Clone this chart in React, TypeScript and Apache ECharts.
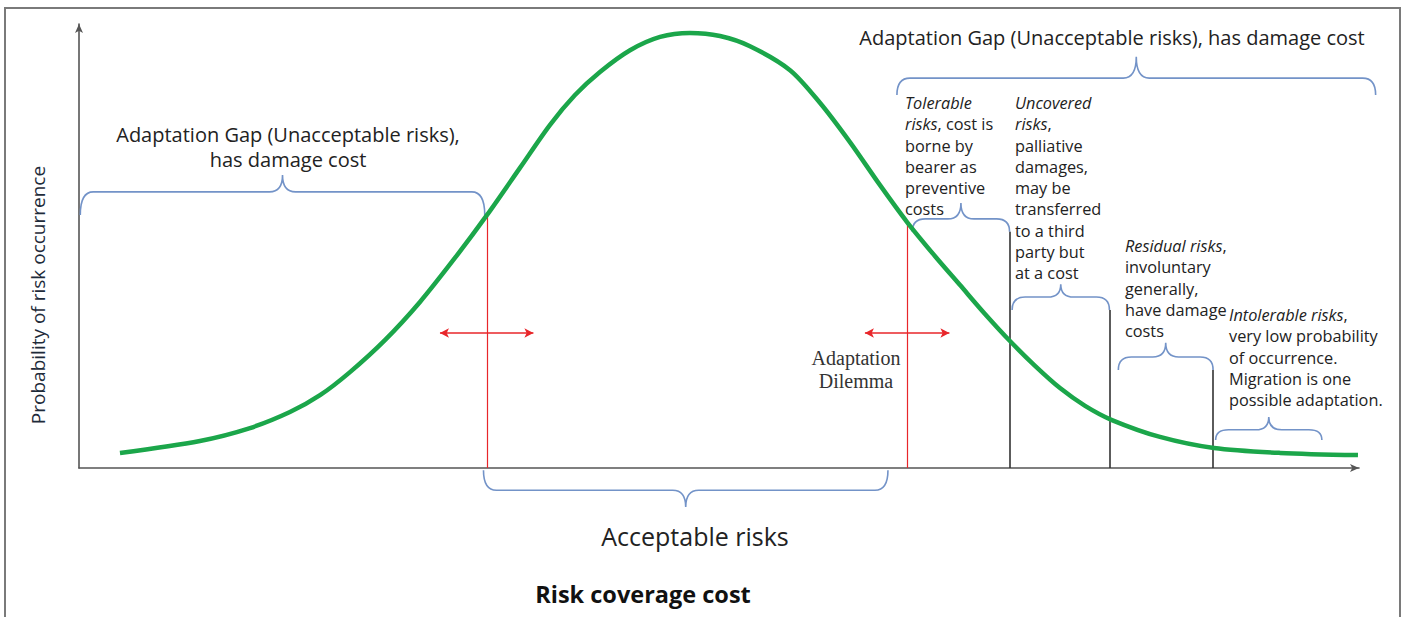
import React, { useEffect, useRef } from "react";
import * as echarts from "echarts";

// Bell-shaped risk curve (x: risk coverage cost 0-100, y: probability 0-100)
const curveCost = [3.2, 9.45, 13.36, 16.48, 18.83, 21.17, 23.9, 26.64, 29.37, 31.88, 34.45, 36.8, 38.75, 40.7, 43.05, 45.4, 47.73, 50.08, 52.42, 55.55, 57.9, 60.23, 62.58, 64.69, 66.88, 68.83, 70.78, 72.73, 74.69, 76.64, 78.6, 80.7, 84.45, 88.67, 93.83, 99.92];
const curveProb = [3.4, 6.1, 9.0, 12.6, 16.4, 21.6, 28.8, 37.4, 47.3, 57.0, 67.6, 77.3, 84.0, 89.2, 94.1, 97.1, 98.0, 97.3, 95.0, 89.6, 82.2, 73.4, 63.7, 55.4, 47.7, 41.2, 34.7, 28.6, 23.0, 18.0, 14.0, 10.8, 7.0, 4.5, 3.4, 2.9];

// Curly braces: start, end, level of the flat part, level of the tips, level of the cusp
const braceFrom = [0.1, 31.6, 63.9, 65.1, 72.9, 81.2, 88.8];
const braceTo = [31.7, 63.2, 101.3, 72.7, 80.5, 88.6, 97.1];
const braceLevel = [62.2, -5.0, 87.8, 56.1, 38.5, 25.0, 8.6];
const braceTip = [57.0, -0.5, 84.0, 53.2, 35.6, 22.1, 6.3];
const braceCusp = [66.0, -8.8, 92.6, 59.7, 41.4, 28.2, 11.5];

// Thresholds (red) and category boundaries (dark)
const thresholdCost = [31.9, 64.7];
const thresholdTop = [57.0, 55.4];
const boundaryCost = [72.7, 80.5, 88.6];
const boundaryTop = [53.2, 35.6, 22.1];
// Double arrows: from, to, level
const arrowFrom = [28.2, 61.4];
const arrowTo = [35.5, 68.0];
const arrowLevel = [30.4, 30.4];

// Texts
const leftGapLines = ["Adaptation Gap (Unacceptable risks),", "has damage cost"];
const rightGapTitle = "Adaptation Gap (Unacceptable risks), has damage cost";
const acceptableLabel = "Acceptable risks";
const xAxisTitle = "Risk coverage cost";
const yAxisTitle = "Probability of risk occurrence";
const dilemmaLines = ["Adaptation", "Dilemma"];
const tolerableText = "{i|Tolerable}\n{i|risks}{n|, cost is}\n{n|borne by}\n{n|bearer as}\n{n|preventive}\n{n|costs}";
const uncoveredText = "{i|Uncovered}\n{i|risks}{n|,}\n{n|palliative}\n{n|damages,}\n{n|may be}\n{n|transferred}\n{n|to a third}\n{n|party but}\n{n|at a cost}";
const residualText = "{i|Residual risks}{n|,}\n{n|involuntary}\n{n|generally,}\n{n|have damage}\n{n|costs}";
const intolerableText = "{i|Intolerable risks}{n|,}\n{n|very low probability}\n{n|of occurrence.}\n{n|Migration is one}\n{n|possible adaptation.}";

const FONT = "'Open Sans', Lato, sans-serif";
const TXT = "#222";
const SMALL = 16.3;
const LH = 21.3;

function smallBlock(text: string, x: number, y: number) {
  return {
    type: "text",
    x,
    y,
    silent: true,
    style: {
      text,
      fill: TXT,
      fontFamily: FONT,
      fontSize: SMALL,
      lineHeight: LH,
      textAlign: "left",
      textVerticalAlign: "top",
      rich: {
        i: { fontStyle: "italic", fontFamily: FONT, fontSize: SMALL, lineHeight: LH, fill: TXT },
        n: { fontFamily: FONT, fontSize: SMALL, lineHeight: LH, fill: TXT },
      },
    },
  };
}

function renderBrace(params: any, api: any) {
  const a = api.coord([api.value(0), api.value(2)]);
  const b = api.coord([api.value(1), api.value(2)]);
  const tip = api.coord([api.value(0), api.value(3)])[1];
  const cusp = api.coord([api.value(0), api.value(4)])[1];
  const y = a[1];
  const x1 = a[0];
  const x2 = b[0];
  const xm = (x1 + x2) / 2;
  const r = Math.min(13, (x2 - x1) / 7);
  const d =
    `M${x1} ${tip} Q${x1} ${y} ${x1 + r} ${y} L${xm - r} ${y} Q${xm} ${y} ${xm} ${cusp} ` +
    `Q${xm} ${y} ${xm + r} ${y} L${x2 - r} ${y} Q${x2} ${y} ${x2} ${tip}`;
  return {
    type: "path",
    shape: { pathData: d },
    style: { fill: "none", stroke: "#7393c8", lineWidth: 1.6 },
    silent: true,
  };
}

export default function App() {
  const ref = useRef<HTMLDivElement>(null);
  useEffect(() => {
    if (!ref.current) return;
    const chart = echarts.init(ref.current, undefined, { renderer: "svg" });

    const markData: any[] = [];
    thresholdCost.forEach((c, i) => {
      markData.push([
        { coord: [c, 0], lineStyle: { color: "#e8262a", width: 1.2, type: "solid" } },
        { coord: [c, thresholdTop[i]] },
      ]);
    });
    boundaryCost.forEach((c, i) => {
      markData.push([
        { coord: [c, 0], lineStyle: { color: "#333", width: 1.6, type: "solid" } },
        { coord: [c, boundaryTop[i]] },
      ]);
    });
    arrowFrom.forEach((c, i) => {
      markData.push([
        { coord: [c, arrowLevel[i]], symbol: "arrow", symbolSize: [7, 9], lineStyle: { color: "#e8262a", width: 1.6, type: "solid" } },
        { coord: [arrowTo[i], arrowLevel[i]], symbol: "arrow", symbolSize: [7, 9] },
      ]);
    });

    const axisLine = {
      show: true,
      symbol: ["none", "arrow"],
      symbolSize: [6, 9],
      lineStyle: { color: "#555", width: 1.6 },
    };

    chart.setOption({
      animation: false,
      backgroundColor: "#fff",
      grid: { left: 79, right: 48, top: 24, bottom: 149 },
      xAxis: {
        type: "value",
        min: 0,
        max: 100,
        axisLine,
        axisTick: { show: false },
        axisLabel: { show: false },
        splitLine: { show: false },
      },
      yAxis: {
        type: "value",
        min: 0,
        max: 100,
        axisLine,
        axisTick: { show: false },
        axisLabel: { show: false },
        splitLine: { show: false },
      },
      series: [
        {
          type: "line",
          name: "risk",
          data: curveCost.map((c, i) => [c, curveProb[i]]),
          smooth: 0.3,
          showSymbol: false,
          silent: true,
          lineStyle: { color: "#1ba64a", width: 4.5 },
          z: 5,
          markLine: {
            silent: true,
            symbol: "none",
            label: { show: false },
            emphasis: { disabled: true },
            data: markData,
          },
        },
        {
          type: "custom",
          name: "braces",
          silent: true,
          clip: false,
          renderItem: renderBrace,
          encode: { x: [0, 1], y: [2, 3, 4] },
          data: braceFrom.map((f, i) => [f, braceTo[i], braceLevel[i], braceTip[i], braceCusp[i]]),
          z: 3,
        },
      ],
      graphic: [
        {
          type: "rect",
          silent: true,
          shape: { x: 5, y: 8, width: 1395, height: 640 },
          style: { fill: "none", stroke: "#7a7a7a", lineWidth: 2 },
        },
        {
          type: "text",
          x: 288,
          y: 147,
          silent: true,
          style: {
            text: leftGapLines.join("\n"),
            fill: TXT,
            fontFamily: FONT,
            fontSize: 20,
            lineHeight: 25,
            textAlign: "center",
            textVerticalAlign: "middle",
          },
        },
        {
          type: "text",
          x: 1112,
          y: 37,
          silent: true,
          style: {
            text: rightGapTitle,
            fill: TXT,
            fontFamily: FONT,
            fontSize: 20,
            textAlign: "center",
            textVerticalAlign: "middle",
          },
        },
        {
          type: "text",
          x: 695,
          y: 536,
          silent: true,
          style: {
            text: acceptableLabel,
            fill: TXT,
            fontFamily: FONT,
            fontSize: 25,
            textAlign: "center",
            textVerticalAlign: "middle",
          },
        },
        {
          type: "text",
          x: 643,
          y: 594,
          silent: true,
          style: {
            text: xAxisTitle,
            fill: "#111",
            fontFamily: FONT,
            fontSize: 23.5,
            fontWeight: "bold",
            textAlign: "center",
            textVerticalAlign: "middle",
          },
        },
        {
          type: "text",
          x: 38,
          y: 295,
          rotation: Math.PI / 2,
          silent: true,
          style: {
            text: yAxisTitle,
            fill: "#1e2b3a",
            fontFamily: FONT,
            fontSize: 19,
            textAlign: "center",
            textVerticalAlign: "middle",
          },
        },
        {
          type: "text",
          x: 856,
          y: 369,
          silent: true,
          style: {
            text: dilemmaLines.join("\n"),
            fill: "#333",
            fontFamily: "'Liberation Serif', 'DejaVu Serif', serif",
            fontSize: 20,
            lineHeight: 23,
            textAlign: "center",
            textVerticalAlign: "middle",
          },
        },
        smallBlock(tolerableText, 905, 103 - LH / 2),
        smallBlock(uncoveredText, 1015, 103 - LH / 2),
        smallBlock(residualText, 1125, 246 - LH / 2),
        smallBlock(intolerableText, 1229, 315 - LH / 2),
      ],
    });
    return () => chart.dispose();
  }, []);
  return (
    <div
      ref={ref}
      style={{ position: "fixed", left: 0, top: 0, width: 1407, height: 617, background: "#fff" }}
    />
  );
}
